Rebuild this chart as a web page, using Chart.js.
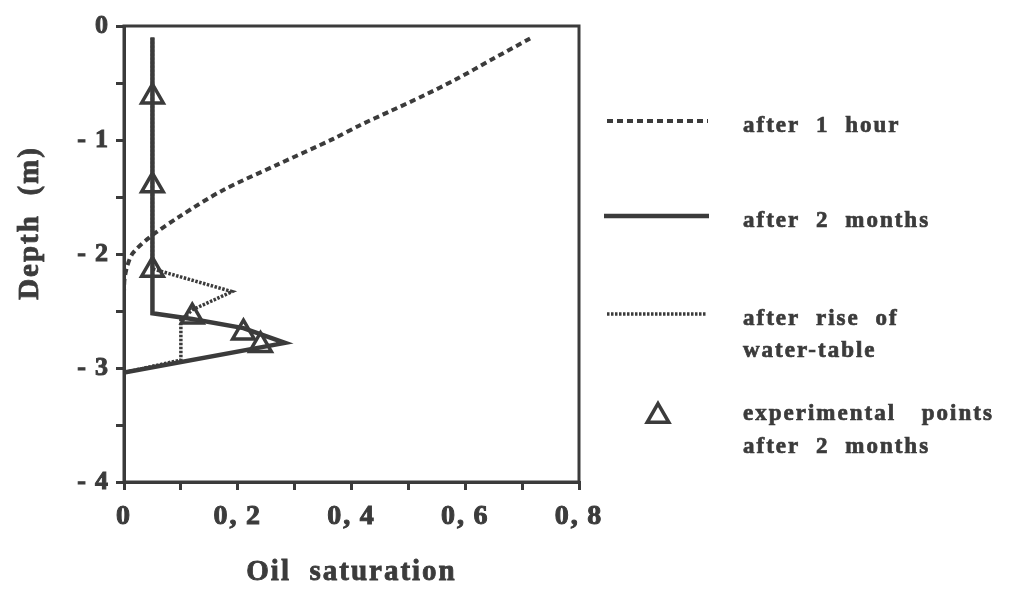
<!DOCTYPE html>
<html>
<head>
<meta charset="utf-8">
<script src="https://cdn.jsdelivr.net/npm/chart.js@4/dist/chart.umd.min.js"></script>
<style>
  html, body { margin: 0; padding: 0; background: #fff; }
  #wrap { width: 1011px; height: 593px; position: relative; }
</style>
</head>
<body>
<div id="wrap"><canvas id="satChart"></canvas></div>
<script>
// oil saturation profiles vs depth
const hourSat   = [0.714, 0.648, 0.583, 0.527, 0.467, 0.415, 0.368, 0.268, 0.174, 0.098, 0.046, 0.016, 0.006, 0.001, 0];
const hourDepth = [-0.11, -0.29, -0.47, -0.61, -0.75, -0.87, -0.99, -1.22, -1.44, -1.67, -1.85, -1.99, -2.10, -2.22, -2.33];

const monthsSat   = [0.05, 0.05, 0.12, 0.21, 0.283, 0];
const monthsDepth = [-0.10, -2.52, -2.57, -2.65, -2.78, -3.04];

const riseSat   = [0.05, 0.05, 0.19, 0.12, 0.10, 0.10, 0];
const riseDepth = [-0.10, -2.13, -2.33, -2.49, -2.58, -2.93, -3.04];

const expSat   = [0.05, 0.05, 0.05, 0.12, 0.21, 0.24];
const expDepth = [-0.62, -1.40, -2.14, -2.55, -2.69, -2.80];

const xTitle = 'Oil  saturation';
const yTitle = 'Depth  (m)';

const legendText = [
  ['after 1 hour'],
  ['after 2 months'],
  ['after rise of', 'water-table'],
  ['experimental points', 'after 2 months']
];

const INK = '#3b3b3b';
const SERIF = '"Liberation Serif", "Times New Roman", serif';

const pts = (xs, ys) => xs.map((x, i) => ({ x: x, y: ys[i] }));

// bold text with a light outline so it reads heavier
function heavyText(ctx, t, x, y, w) {
  ctx.lineWidth = w;
  ctx.strokeText(t, x, y);
  ctx.fillText(t, x, y);
}

// frame around the plot area + axis titles
const boxPlugin = {
  id: 'box',
  beforeDraw(chart) {
    chart.ctx.letterSpacing = '2px';
  },
  afterDraw(chart) {
    const { ctx, chartArea: a } = chart;
    ctx.save();
    ctx.strokeStyle = INK;
    ctx.lineWidth = 3;
    ctx.setLineDash([]);
    ctx.strokeRect(a.left, a.top, a.right - a.left, a.bottom - a.top);

    ctx.fillStyle = INK;
    ctx.font = 'bold 29px ' + SERIF;
    ctx.letterSpacing = '2px';
    ctx.textAlign = 'center';
    ctx.textBaseline = 'middle';
    heavyText(ctx, xTitle, (a.left + a.right) / 2, 573, 0.8);

    ctx.translate(31, 223);
    ctx.rotate(-Math.PI / 2);
    heavyText(ctx, yTitle, 0, 0, 0.8);
    ctx.restore();
  }
};

// legend on the right
const legendPlugin = {
  id: 'sideLegend',
  afterDraw(chart) {
    const ctx = chart.ctx;
    const ds = chart.data.datasets;
    ctx.save();
    ctx.strokeStyle = INK;
    ctx.lineCap = 'butt';

    const swatch = (d, y, x0, x1) => {
      ctx.lineWidth = d.borderWidth;
      ctx.setLineDash(d.borderDash || []);
      ctx.beginPath();
      ctx.moveTo(x0, y);
      ctx.lineTo(x1, y);
      ctx.stroke();
    };
    swatch(ds[1], 121, 607, 708);
    swatch(ds[2], 216, 604, 709);
    swatch(ds[3], 314, 607, 707);

    // triangle marker
    ctx.setLineDash([]);
    ctx.lineWidth = ds[0].pointBorderWidth;
    const r = ds[0].pointRadius, cx = 658, cy = 416;
    ctx.beginPath();
    for (let k = 0; k < 3; k++) {
      const ang = k * 2 * Math.PI / 3;
      const px = cx + Math.sin(ang) * r, py = cy - Math.cos(ang) * r;
      k ? ctx.lineTo(px, py) : ctx.moveTo(px, py);
    }
    ctx.closePath();
    ctx.stroke();

    ctx.fillStyle = INK;
    ctx.font = 'bold 23px ' + SERIF;
    ctx.letterSpacing = '2px';
    ctx.textBaseline = 'alphabetic';
    const baselines = [[132], [227], [325, 357], [420, 453]];
    legendText.forEach((lines, i) => {
      lines.forEach((t, j) => {
        ctx.wordSpacing = t === 'experimental points' ? '18px' : '8px';
        heavyText(ctx, t, 743, baselines[i][j], 0.7);
      });
    });
    ctx.restore();
  }
};

const tickFont = size => ({ family: SERIF, size: size, weight: 'bold' });

new Chart(document.getElementById('satChart'), {
  type: 'scatter',
  data: {
    datasets: [
      {
        label: 'experimental points after 2 months',
        data: pts(expSat, expDepth),
        pointStyle: 'triangle',
        pointRadius: 12.5,
        pointBorderWidth: 3.5,
        pointBorderColor: INK,
        pointBackgroundColor: 'rgba(0,0,0,0)',
        showLine: false
      },
      {
        label: 'after 1 hour',
        data: pts(hourSat, hourDepth),
        showLine: true,
        borderColor: INK,
        borderWidth: 4,
        borderDash: [6, 4],
        tension: 0.3,
        pointRadius: 0
      },
      {
        label: 'after 2 months',
        data: pts(monthsSat, monthsDepth),
        showLine: true,
        borderColor: INK,
        borderWidth: 4.5,
        tension: 0,
        pointRadius: 0
      },
      {
        label: 'after rise of water-table',
        data: pts(riseSat, riseDepth),
        showLine: true,
        borderColor: INK,
        borderWidth: 3.5,
        borderDash: [2.5, 1.5],
        tension: 0,
        pointRadius: 0
      }
    ]
  },
  options: {
    responsive: true,
    maintainAspectRatio: false,
    animation: false,
    layout: { padding: { left: 0, top: 26, right: 432, bottom: 0 } },
    plugins: {
      legend: { display: false },
      tooltip: { enabled: false }
    },
    scales: {
      x: {
        type: 'linear',
        min: 0,
        max: 0.8,
        afterFit: s => { s.height = 111; },
        grid: { drawOnChartArea: false, drawTicks: true, tickLength: 8, color: INK, lineWidth: 3 },
        border: { display: true, color: INK, width: 3 },
        ticks: {
          stepSize: 0.1,
          padding: 10,
          color: INK,
          textStrokeColor: INK,
          textStrokeWidth: 1,
          font: tickFont(28),
          callback: v => {
            const r = Math.round(v * 10);
            if (r % 2) return '';
            return r === 0 ? '0' : (r / 10).toFixed(1).replace('.', ',\u2009');
          }
        }
      },
      y: {
        type: 'linear',
        min: -4,
        max: 0,
        afterFit: s => { s.width = 124; },
        grid: { drawOnChartArea: false, drawTicks: true, tickLength: 8, color: INK, lineWidth: 3 },
        border: { display: true, color: INK, width: 3 },
        ticks: {
          stepSize: 0.5,
          padding: 6,
          color: INK,
          textStrokeColor: INK,
          textStrokeWidth: 1,
          font: tickFont(26),
          callback: v => {
            if (!Number.isInteger(v)) return '';
            return v === 0 ? '0' : '-\u2009' + Math.abs(v);
          }
        }
      }
    }
  },
  plugins: [boxPlugin, legendPlugin]
});
</script>
</body>
</html>
